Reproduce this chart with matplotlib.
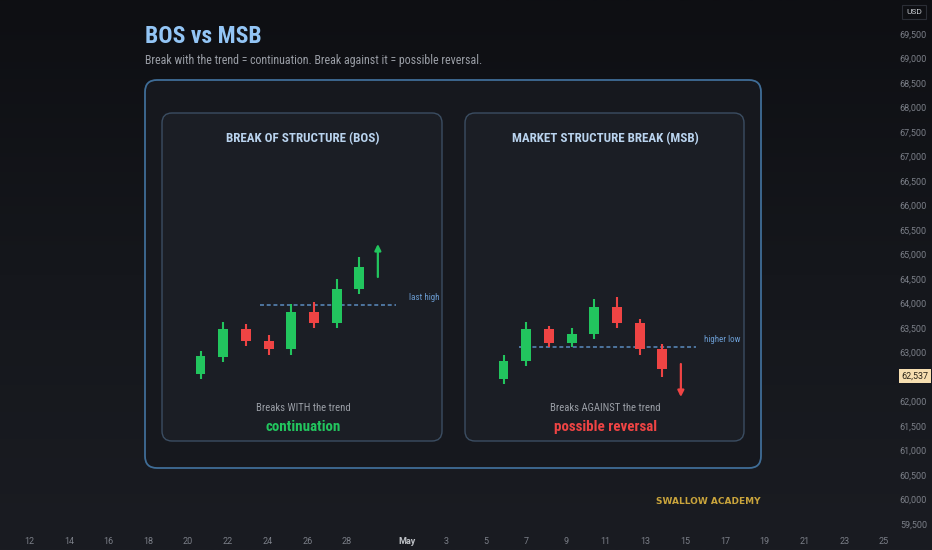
import matplotlib
matplotlib.use('Agg')
import matplotlib.pyplot as plt
import numpy as np
from matplotlib import font_manager as fm
from matplotlib.patches import FancyBboxPatch
from matplotlib.transforms import blended_transform_factory as btf
from matplotlib.colors import LinearSegmentedColormap

plt.rcParams['font.family'] = ['Roboto', 'DejaVu Sans']
_names = {f.name for f in fm.fontManager.ttflist}
if 'Roboto Condensed' in _names:
    NARROW = ['Roboto Condensed', 'Roboto', 'DejaVu Sans']
    S = {'title': 17.0, 'sub': 8.6, 'ptitle': 9.4, 'psub': 7.7, 'verd': 10.8, 'lab': 6.5}
else:
    NARROW = ['Roboto', 'DejaVu Sans']
    S = {'title': 14.8, 'sub': 7.4, 'ptitle': 8.0, 'psub': 6.6, 'verd': 9.2, 'lab': 6.0}

W, H = 932, 550

# ---------------- data ----------------
price_ticks = [69500, 69000, 68500, 68000, 67500, 67000, 66500, 66000, 65500,
               65000, 64500, 64000, 63500, 63000, 62000, 61500, 61000, 60500,
               60000, 59500]
date_pos = [12, 14, 16, 18, 20, 22, 24, 26, 28, 31, 33, 35, 37, 39, 41, 43,
            45, 47, 49, 51, 53, 55]
date_labels = ['12', '14', '16', '18', '20', '22', '24', '26', '28', 'May', '3',
               '5', '7', '9', '11', '13', '15', '17', '19', '21', '23', '25']
last_price = 62537

bos_open = [26, 43, 71, 59, 51, 88, 77, 111]
bos_high = [49, 78, 76, 65, 96, 98, 121, 143]
bos_low = [21, 38, 54, 45, 45, 72, 72, 106]
bos_close = [44, 71, 59, 51, 88, 77, 111, 133]
bos_level = 95
bos_arrow = [123, 156]

msb_open = [21, 39, 71, 57, 66, 93, 77, 51]
msb_high = [45, 78, 74, 72, 101, 103, 81, 56]
msb_low = [16, 34, 53, 53, 61, 72, 45, 23]
msb_close = [39, 71, 57, 66, 93, 77, 51, 31]
msb_level = 53
msb_arrow = [36, 3]

GREEN = '#22c55e'
RED = '#ef4444'

fig = plt.figure(figsize=(W / 100, H / 100), dpi=100)
fig.patch.set_facecolor('#131419')

# ---------------- background price chart frame ----------------
bg = fig.add_axes([0, 0, 1, 1])
bg.set_axis_off()
cmap = LinearSegmentedColormap.from_list('bg', ['#0e0f13', '#15171c', '#1a1c22'])
bg.imshow(np.linspace(0, 1, 256).reshape(-1, 1), extent=(0, 1, 0, 1),
          transform=bg.transAxes, cmap=cmap, aspect='auto', zorder=0)
bg.set_xlim(10.54, 57.42)
bg.set_ylim(58990, 70214)

tr_price = btf(bg.transAxes, bg.transData)
for p in price_ticks:
    bg.text(927 / W, p, f'{p:,}', transform=tr_price, ha='right', va='center',
            fontsize=6.5, color='#7b7f88')
tr_date = btf(bg.transData, bg.transAxes)
for d, lab in zip(date_pos, date_labels):
    bg.text(d, 1 - 541 / H, lab, transform=tr_date, ha='center', va='center',
            fontsize=6.5, color='#c0c3c8' if lab == 'May' else '#7b7f88',
            fontweight='bold' if lab == 'May' else 'normal')
bg.text(915 / W, last_price, f'{last_price:,}', transform=tr_price, ha='center',
        va='center', fontsize=6.5, color='#2a2418',
        bbox=dict(boxstyle='square,pad=0.3', fc='#f6deb0', ec='none'))
bg.text(914 / W, 1 - 12 / H, 'USD', transform=bg.transAxes, ha='center',
        va='center', fontsize=6, color='#c8cbd0',
        bbox=dict(boxstyle='square,pad=0.45', fc='none', ec='#2b2e36', lw=0.8))

# ---------------- layout (pixel) axes ----------------
lay = fig.add_axes([0, 0, 1, 1])
lay.set_xlim(0, W)
lay.set_ylim(H, 0)
lay.set_axis_off()
lay.patch.set_visible(False)

lay.add_patch(FancyBboxPatch((145, 80), 616, 388,
                             boxstyle='round,pad=0,rounding_size=12',
                             fc='#16181e', ec='#3f6d97', lw=1.3, zorder=1))
panels = [(162, 113, 280, 328), (465, 113, 279, 328)]
for (x0, y0, w, h) in panels:
    lay.add_patch(FancyBboxPatch((x0, y0), w, h,
                                 boxstyle='round,pad=0,rounding_size=10',
                                 fc='#1b1e25', ec='#3b4d62', lw=1.0, zorder=2))

lay.text(145, 43, 'BOS vs MSB', ha='left', va='baseline', fontsize=S['title'],
         fontweight='bold', color='#93c5f5', family=NARROW)
lay.text(145, 64, 'Break with the trend = continuation. Break against it = possible reversal.',
         ha='left', va='baseline', fontsize=S['sub'], color='#9a9ea6', family=NARROW)

titles = ['BREAK OF STRUCTURE (BOS)', 'MARKET STRUCTURE BREAK (MSB)']
subs = ['Breaks WITH the trend', 'Breaks AGAINST the trend']
verdicts = ['continuation', 'possible reversal']
vcolors = [GREEN, RED]
for (x0, y0, w, h), t, s, v, c in zip(panels, titles, subs, verdicts, vcolors):
    cx = x0 + w / 2 + 1
    lay.text(cx, 141.7, t, ha='center', va='baseline', fontsize=S['ptitle'],
             fontweight='bold', color='#b9d3ee', zorder=3, family=NARROW)
    lay.text(cx, 410.7, s, ha='center', va='baseline', fontsize=S['psub'],
             color='#9a9ea6', zorder=3, family=NARROW)
    lay.text(cx, 430.7, v, ha='center', va='baseline', fontsize=S['verd'],
             fontweight='bold', color=c, zorder=3, family=NARROW)

lay.text(761, 504, 'SWALLOW ACADEMY', ha='right', va='baseline', fontsize=6.5,
         fontweight='bold', color='#c9a43c', family=['DejaVu Sans'])

# ---------------- candle panels ----------------
STEP = 22.68
OFF = 38.5


def candle_axes(x0, y0, w, h):
    ax = fig.add_axes([x0 / W, 1 - (y0 + h) / H, w / W, h / H])
    ax.set_xlim(-OFF / STEP, (w - OFF) / STEP)
    ax.set_ylim(-41, 287)
    ax.set_axis_off()
    ax.patch.set_visible(False)
    return ax


def draw_candles(ax, o, hi, lo, c):
    x = np.arange(len(o))
    o = np.array(o); c = np.array(c)
    cols = [GREEN if cc >= oo else RED for oo, cc in zip(o, c)]
    ax.vlines(x, lo, hi, colors=cols, lw=1.5, zorder=3)
    ax.bar(x, np.abs(c - o), bottom=np.minimum(o, c), width=0.44,
           color=cols, zorder=4)


ax1 = candle_axes(*panels[0])
draw_candles(ax1, bos_open, bos_high, bos_low, bos_close)
ax1.hlines(bos_level, 2.62, 8.62, colors='#5b8cc0', lw=1.1,
           linestyles=(0, (2.6, 1.8)), zorder=2)
ax1.text(9.2, bos_level + 8, 'last high', ha='left', va='center',
         fontsize=S['lab'], color='#6a9bd0', family=NARROW)
ax1.annotate('', xy=(7.82, bos_arrow[1]), xytext=(7.82, bos_arrow[0]),
             arrowprops=dict(arrowstyle='-|>', color=GREEN, lw=1.6,
                             mutation_scale=9, shrinkA=0, shrinkB=0))

ax2 = candle_axes(*panels[1])
draw_candles(ax2, msb_open, msb_high, msb_low, msb_close)
ax2.hlines(msb_level, 0.69, 8.5, colors='#5b8cc0', lw=1.1,
           linestyles=(0, (2.6, 1.8)), zorder=2)
ax2.text(8.86, msb_level + 8, 'higher low', ha='left', va='center',
         fontsize=S['lab'], color='#6a9bd0', family=NARROW)
ax2.annotate('', xy=(7.82, msb_arrow[1]), xytext=(7.82, msb_arrow[0]),
             arrowprops=dict(arrowstyle='-|>', color=RED, lw=1.6,
                             mutation_scale=9, shrinkA=0, shrinkB=0))

fig.savefig('out.png', dpi=100, facecolor=fig.get_facecolor())
